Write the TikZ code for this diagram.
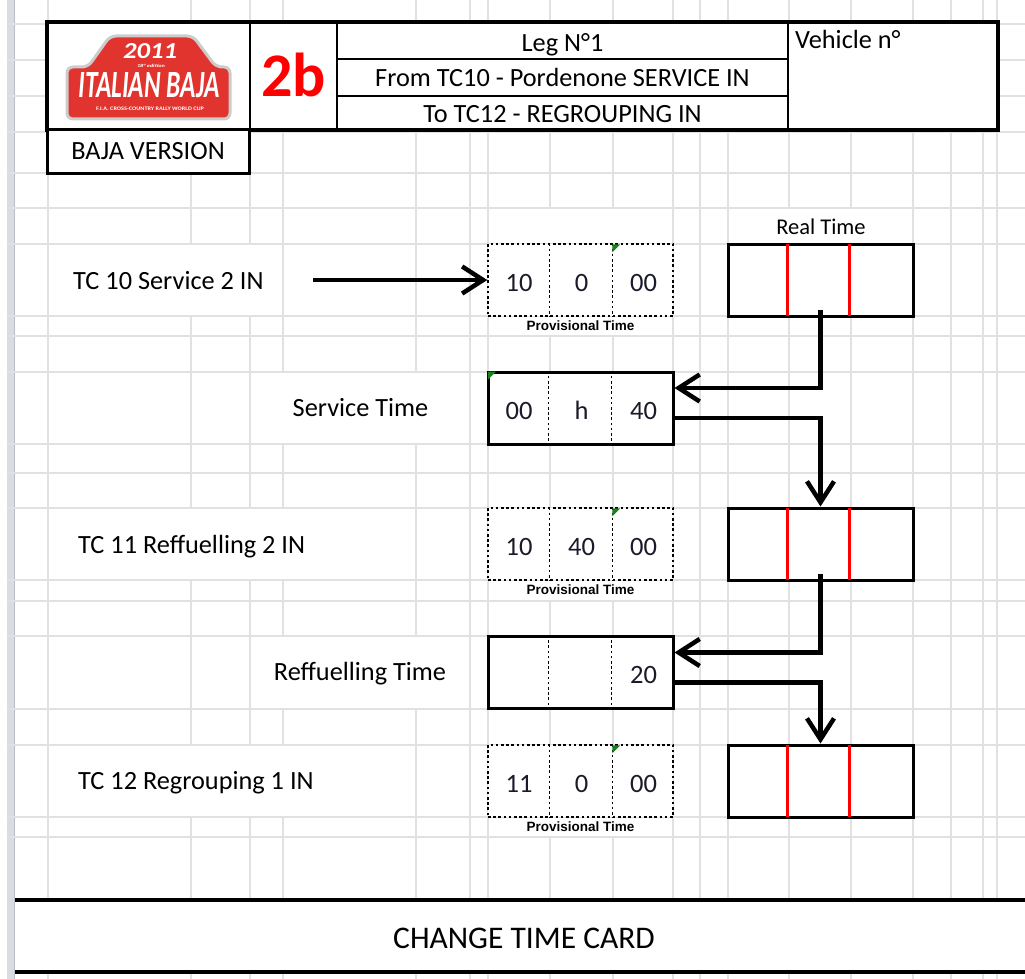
\documentclass[tikz,border=0pt]{standalone}
\usepackage{fontspec}
\setmainfont{Carlito}
\newfontfamily\provfont{Liberation Sans}
\usepackage{graphicx}
\usetikzlibrary{arrows.meta,calc}
\definecolor{gridgray}{HTML}{E1E1E1}
\definecolor{stripgray}{HTML}{D9DCE1}
\definecolor{stripdark}{HTML}{B8BEC7}
\definecolor{logored}{HTML}{E2342F}
\definecolor{errgreen}{HTML}{1E7D1E}
\definecolor{digitc}{HTML}{1A1A2A}
\begin{document}
\begin{tikzpicture}[x=1pt,y=-1pt,
  gridline/.style={draw=gridgray,line width=1.3pt},
  txt/.style={font=\fontsize{26.3}{28}\selectfont, inner sep=0pt},
  digit/.style={font=\fontsize{26.5}{28}\selectfont, inner sep=0pt, anchor=base, text=digitc},
  provbox/.style={draw, line width=1.4pt, dash pattern=on 2.6pt off 2.6pt, minimum width=185pt, minimum height=72pt, inner sep=0pt, fill=white},
  solidbox/.style={draw, line width=3pt, minimum width=185pt, minimum height=72pt, inner sep=0pt, fill=white},
  cellsep/.style={line width=1.4pt, dash pattern=on 2.6pt off 2.6pt},
  redsep/.style={draw=red, line width=2.4pt},
  conn/.style={line width=4.5pt, -{Straight Barb[length=21pt,width=27pt]}},
  provlabel/.style={font=\provfont\bfseries\fontsize{13.5}{15}\selectfont, inner sep=0pt, anchor=base},
  logotxt/.style={text=white, inner sep=0pt},
]
\useasboundingbox (0,0) rectangle (1025,979);
\fill[white] (0,0) rectangle (1025,979);
% spreadsheet grid
\fill[stripgray] (7,0) rectangle (15,979);
\draw[stripdark, line width=1pt] (14.5,0) -- (14.5,979);
\foreach \yy in {24,60,96,132,173,208,244,316,336,372,444,473,508,580,601,636,709,745,817,837}
  \draw[gridline] (7,\yy) -- (1025,\yy);
\foreach \xx in {48,191,250,283,416,470,488,550,613,673,700,728,789,851,913,951,983,997}
  \draw[gridline] (\xx,0) -- (\xx,979);
% areas without grid (merged / overflowing cells)
\fill[white] (49,245) rectangle (282,315);
\fill[white] (251,373) rectangle (469,443);
\fill[white] (49,509) rectangle (415,579);
\fill[white] (251,637) rectangle (469,708);
\fill[white] (49,746) rectangle (415,816);
\fill[white] (489,209) rectangle (672,243);
\fill[white] (729,209) rectangle (912,243);
\fill[white] (489,317) rectangle (672,335);
\fill[white] (489,581) rectangle (672,600);
\fill[white] (489,818) rectangle (672,836);
\fill[white] (15,901) rectangle (1025,971);

% header
\fill[white] (47,22) rectangle (998,130);
\draw[line width=2.5pt] (250,22) -- (250,130) (337,22) -- (337,130) (788,22) -- (788,130);
\draw[line width=1.8pt] (337,59) -- (788,59) (337,96) -- (788,96);
\draw[line width=3.5pt] (47,22) rectangle (998,130);
\draw[line width=3pt, fill=white] (47,130) rectangle (249,173);

% logo
\filldraw[fill=logored, draw=gray!40, line width=3pt, rounded corners=6pt]
  (67,67) -- (88,67) -- (110,36) -- (193,36) -- (216,67) -- (230,67) -- (230,119) -- (67,119) -- cycle;
\node[logotxt] (yr) at (150,51.5) {\resizebox{54pt}{15pt}{\bfseries\itshape 2011}};
\node[logotxt] (ed) at (151,65.5) {\resizebox{28pt}{3.2pt}{\bfseries\itshape 18° edition}};
\node[logotxt] (ib) at (149,85.5) {\resizebox{141pt}{25pt}{\bfseries\itshape ITALIAN BAJA}};
\node[logotxt] (fia) at (150,108.5) {\resizebox{108pt}{3.5pt}{\bfseries F.I.A. CROSS-COUNTRY RALLY WORLD CUP}};

\node[anchor=base, text=red, inner sep=0pt, font=\bfseries\fontsize{62}{64}\selectfont] (two) at (293.5,97) {2b};
\node[txt, anchor=base] (leg) at (562.5,52) {Leg N°1};
\node[txt, anchor=base] (from) at (562.5,87) {From TC10 - Pordenone SERVICE IN};
\node[txt, anchor=base] (to) at (562.5,123) {To TC12 - REGROUPING IN};
\node[txt, anchor=base west] (veh) at (795,49) {Vehicle n°};
\node[txt, anchor=base] (baja) at (148,160) {BAJA VERSION};

% labels
\node[txt, anchor=base west] (l1) at (73,289) {TC 10 Service 2 IN};
\node[txt, anchor=base] (l2) at (360.5,416) {Service Time};
\node[txt, anchor=base west] (l3) at (78,553) {TC 11 Reffuelling 2 IN};
\node[txt, anchor=base] (l4) at (360,680) {Reffuelling Time};
\node[txt, anchor=base west] (l5) at (78,789) {TC 12 Regrouping 1 IN};
\node[txt, anchor=base, font=\fontsize{22.5}{24}\selectfont] (rt) at (821,234) {Real Time};

% boxes
\node[provbox] (p1) at (580.5,280) {};
\node[solidbox] (r1) at (820.5,280) {};
\node[solidbox] (s1) at (580.5,408) {};
\node[provbox] (p2) at (580.5,544) {};
\node[solidbox] (r2) at (820.5,544) {};
\node[solidbox] (f1) at (580.5,672.5) {};
\node[provbox] (p3) at (580.5,781) {};
\node[solidbox] (r3) at (820.5,781) {};

\foreach \b in {p1,s1,p2,f1,p3} {
  \draw[cellsep] ($(\b.north west)+(62,0)$) -- ($(\b.south west)+(62,0)$);
  \draw[cellsep] ($(\b.north west)+(125,0)$) -- ($(\b.south west)+(125,0)$);
}
\foreach \b in {r1,r2,r3} {
  \draw[redsep] ($(\b.north west)+(61,1.5)$) -- ($(\b.south west)+(61,-1.5)$);
  \draw[redsep] ($(\b.north west)+(123,1.5)$) -- ($(\b.south west)+(123,-1.5)$);
}
% green error indicators
\foreach \b/\dx in {p1/125,p2/125,p3/125,s1/1.5} {
  \fill[errgreen] ($(\b.north west)+(\dx,1)$) -- ++(8,0) -- ++(-8,8) -- cycle;
}

% cell values
\node[digit] (p1a) at ($(p1.center)+(-61.5,11)$) {10};
\node[digit] (p1b) at ($(p1.center)+(1,11)$) {0};
\node[digit] (p1c) at ($(p1.center)+(63,11)$) {00};
\node[digit] (s1a) at ($(s1.center)+(-61.5,11)$) {00};
\node[digit] (s1b) at ($(s1.center)+(1,11)$) {h};
\node[digit] (s1c) at ($(s1.center)+(63,11)$) {40};
\node[digit] (p2a) at ($(p2.center)+(-61.5,11)$) {10};
\node[digit] (p2b) at ($(p2.center)+(1,11)$) {40};
\node[digit] (p2c) at ($(p2.center)+(63,11)$) {00};
\node[digit] (f1c) at ($(f1.center)+(63,11)$) {20};
\node[digit] (p3a) at ($(p3.center)+(-61.5,11)$) {11};
\node[digit] (p3b) at ($(p3.center)+(1,11)$) {0};
\node[digit] (p3c) at ($(p3.center)+(63,11)$) {00};

\node[provlabel] (pl1) at ($(p1.south)+(0,14)$) {Provisional Time};
\node[provlabel] (pl2) at ($(p2.south)+(0,14)$) {Provisional Time};
\node[provlabel] (pl3) at ($(p3.south)+(0,14)$) {Provisional Time};

% connectors
\coordinate (a1) at (313,280);
\draw[conn] (a1) -- (p1.west);
\draw[conn] ([yshift=8pt]r1.south) |- ([yshift=20pt]s1.east);
\draw[conn] ([yshift=-10pt]s1.east) -| (r2.north);
\draw[conn] ([yshift=8pt]r2.south) |- ([yshift=20pt]f1.east);
\draw[conn] ([yshift=-10pt]f1.east) -| (r3.north);

% footer
\draw[line width=4pt] (15,900) -- (1025,900) (15,972) -- (1025,972);
\node[anchor=base, inner sep=0pt, font=\fontsize{31.5}{33}\selectfont] (ctc) at (524,948) {CHANGE TIME CARD};
\end{tikzpicture}
\end{document}
